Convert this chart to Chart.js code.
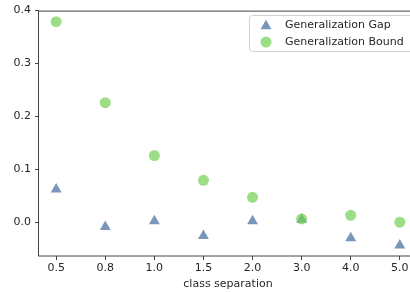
<!DOCTYPE html>
<html>
<head>
<meta charset="utf-8">
<script src="https://cdn.jsdelivr.net/npm/chart.js@4/dist/chart.umd.min.js"></script>
<style>
  html, body { margin: 0; padding: 0; background: #fff; overflow: hidden; width: 410px; height: 292px; }
  canvas { display: block; }
</style>
</head>
<body>
<canvas id="c" width="424" height="292"></canvas>
<script>
const categories = ["0.5", "0.8", "1.0", "1.5", "2.0", "3.0", "4.0", "5.0"];
const gapValues = [0.062, -0.009, 0.002, -0.026, 0.002, 0.005, -0.030, -0.044];
const boundValues = [0.379, 0.226, 0.126, 0.079, 0.047, 0.006, 0.013, 0.000];
const yTicks = [0.0, 0.1, 0.2, 0.3, 0.4];
const xTitle = "class separation";
const gapLabel = "Generalization Gap";
const boundLabel = "Generalization Bound";

const FONT = "'DejaVu Sans', sans-serif";
const TEXT = "#262626";
const AXIS = "#444444";
const BLUE = "#7897b9";
const GREEN = "rgba(112,208,83,0.7)";

const toPts = arr => arr.map((v, i) => ({ x: i, y: v }));

const frame = {
  id: 'frame',
  afterDatasetsDraw(chart) {
    const { ctx, chartArea: a } = chart;
    ctx.save();
    ctx.strokeStyle = AXIS;
    ctx.lineWidth = 1;
    ctx.strokeRect(a.left - 0.5, a.top + 0.5, a.right - a.left + 0.5, a.bottom - a.top - 0.5);
    ctx.restore();
  }
};

const legendBox = {
  id: 'legendBox',
  afterDraw(chart) {
    const { ctx } = chart;
    const x = 249, y = 15, w = 170, h = 36;
    ctx.save();
    ctx.fillStyle = "rgba(255,255,255,0.8)";
    ctx.strokeStyle = "#d0d0d0";
    ctx.lineWidth = 1;
    ctx.beginPath();
    ctx.roundRect(x + 0.5, y + 0.5, w, h, 3);
    ctx.fill();
    ctx.stroke();
    const items = [
      { label: gapLabel, style: 'triangle', color: BLUE, r: 6.3, cy: 25 },
      { label: boundLabel, style: 'circle', color: GREEN, r: 5.5, cy: 42 }
    ];
    items.forEach(it => {
      ctx.fillStyle = it.color;
      ctx.strokeStyle = it.color;
      Chart.helpers.drawPoint(ctx, { pointStyle: it.style, radius: it.r, borderWidth: 0, rotation: 0 }, 266, it.style === 'triangle' ? it.cy + 1 : it.cy);
      ctx.fillStyle = TEXT;
      ctx.font = "11px " + FONT;
      ctx.textBaseline = 'middle';
      ctx.textAlign = 'left';
      ctx.fillText(it.label, 285, it.cy);
    });
    ctx.restore();
  }
};

new Chart(document.getElementById('c'), {
  type: 'scatter',
  data: {
    datasets: [
      {
        label: boundLabel,
        data: toPts(boundValues),
        pointStyle: 'circle',
        pointRadius: 5.5,
        pointHoverRadius: 5.5,
        backgroundColor: GREEN,
        borderWidth: 0,
        order: 0
      },
      {
        label: gapLabel,
        data: toPts(gapValues),
        pointStyle: 'triangle',
        pointRadius: 6.3,
        pointHoverRadius: 6.3,
        backgroundColor: BLUE,
        borderWidth: 0,
        order: 1
      }
    ]
  },
  options: {
    responsive: false,
    devicePixelRatio: 1,
    animation: false,
    layout: { padding: { left: 0, top: 10, right: 7, bottom: 0 } },
    plugins: {
      legend: { display: false },
      tooltip: { enabled: false }
    },
    scales: {
      x: {
        type: 'linear',
        min: -0.35,
        max: 7.35,
        afterBuildTicks: axis => { axis.ticks = categories.map((_, i) => ({ value: i })); },
        afterFit: axis => { axis.height = 36; },
        grid: { display: true, drawOnChartArea: false, drawTicks: true, tickLength: 4, color: AXIS, tickColor: AXIS },
        border: { display: false },
        ticks: {
          color: TEXT,
          font: { family: FONT, size: 11 },
          padding: 1.5,
          maxRotation: 0,
          autoSkip: false,
          callback: v => categories[v]
        },
        title: {
          display: true,
          text: xTitle,
          color: TEXT,
          font: { family: FONT, size: 11 },
          padding: { top: 0, bottom: 1.5 }
        }
      },
      y: {
        type: 'linear',
        min: -0.064,
        max: 0.4,
        afterBuildTicks: axis => { axis.ticks = yTicks.map(v => ({ value: v })); },
        afterFit: axis => { axis.width = 39; },
        grid: { display: true, drawOnChartArea: false, drawTicks: true, tickLength: 4, color: AXIS, tickColor: AXIS },
        border: { display: false },
        ticks: {
          color: TEXT,
          font: { family: FONT, size: 11 },
          padding: 4,
          callback: v => Number(v).toFixed(1)
        }
      }
    }
  },
  plugins: [frame, legendBox]
});
</script>
</body>
</html>
